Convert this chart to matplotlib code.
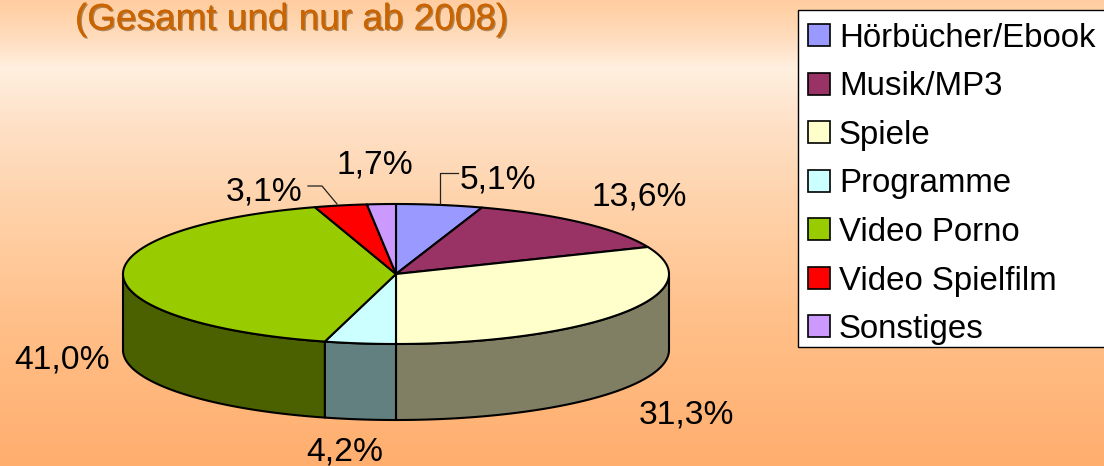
import numpy as np
import matplotlib
matplotlib.use("Agg")
import matplotlib.pyplot as plt
from matplotlib.colors import LinearSegmentedColormap
from matplotlib.patches import Patch, Polygon, Rectangle
import matplotlib.patheffects as pe

# Data
categories = ["Hörbücher/Ebook", "Musik/MP3", "Spiele", "Programme",
              "Video Porno", "Video Spielfilm", "Sonstiges"]
values = [5.1, 13.6, 31.3, 4.2, 41.0, 3.1, 1.7]
value_labels = ["5,1%", "13,6%", "31,3%", "4,2%", "41,0%", "3,1%", "1,7%"]
title_text = "(Gesamt und nur ab 2008)"

# Styles
top_colors = ["#9999FF", "#993366", "#FFFFCC", "#CCFFFF", "#99CC00", "#FF0000", "#CC99FF"]
side_colors = ["#4D4D80", "#4D1A33", "#807F63", "#62807F", "#4B6100", "#800000", "#664D80"]
label_pos = [(498, 180), (639, 197), (686, 415), (345, 452), (62, 360), (264, 192), (375, 165)]
CX, CY, RX, RY, DEPTH = 396, 274, 273, 70, 76

plt.rcParams["font.family"] = ["Liberation Sans", "DejaVu Sans"]
fig = plt.figure(figsize=(11.04, 4.66), dpi=100)
ax = fig.add_axes([0, 0, 1, 1])
ax.set_xlim(0, 1104)
ax.set_ylim(466, 0)
ax.axis("off")

# Background
stops = [(0.0, "#FFCDA0"), (0.08, "#FFDDBE"), (0.145, "#FFF0DF"), (0.27, "#FEE0C6"),
         (0.45, "#FFD2A9"), (0.7, "#FFBF88"), (1.0, "#FFAE6E")]
cmap = LinearSegmentedColormap.from_list("bg", stops)
ax.imshow(np.linspace(0, 1, 466)[:, None], cmap=cmap, aspect="auto",
          extent=(0, 1104, 466, 0), zorder=0)

def pt(deg, dy=0.0):
    r = np.radians(deg)
    return CX + RX * np.sin(r), CY - RY * np.cos(r) + dy

edges = np.concatenate([[0], np.cumsum(values)]) / np.sum(values) * 360.0

# Side walls (front half only)
for i in range(len(values)):
    a0, a1 = max(edges[i], 90), min(edges[i + 1], 270)
    if a1 <= a0:
        continue
    aa = np.linspace(a0, a1, 80)
    upper = [pt(a) for a in aa]
    lower = [pt(a, DEPTH) for a in aa[::-1]]
    ax.add_patch(Polygon(upper + lower, closed=True, fc=side_colors[i], ec="black",
                         lw=1.5, joinstyle="round", zorder=2))

# Top face
for i in range(len(values)):
    aa = np.linspace(edges[i], edges[i + 1], 120)
    poly = [(CX, CY)] + [pt(a) for a in aa]
    ax.add_patch(Polygon(poly, closed=True, fc=top_colors[i], ec="black",
                         lw=1.5, joinstyle="round", zorder=3))

# Value labels
for lab, (x, y) in zip(value_labels, label_pos):
    ax.text(x, y, lab, fontsize=24.2, color="black", ha="center", va="center", zorder=5)

# Leader lines
ax.plot([458, 440, 440], [173, 173, 204], color="#222222", lw=0.9, zorder=4)
ax.plot([308, 322, 337], [186, 186, 204], color="#222222", lw=0.9, zorder=4)

# Title
ax.text(291, 20, title_text, fontsize=26.6, color="#C96400", ha="center", va="center", zorder=5,
        path_effects=[pe.withSimplePatchShadow(offset=(1.0, -1.0), shadow_rgbFace="#7A5020", alpha=0.6),
                      pe.Normal()])

# Legend box and entries
ax.add_patch(Rectangle((797.5, 10), 340, 337, fc="white", ec="black", lw=1.0, zorder=6))
handles = [Patch(fc=c, ec="black", lw=1.2) for c in top_colors]
leg = ax.legend(handles, categories, loc="upper left", bbox_to_anchor=(797.5, 12),
                bbox_transform=ax.transData, fontsize=23.8, frameon=False,
                borderpad=0.33, borderaxespad=0, labelspacing=0.53,
                handlelength=0.65, handleheight=0.65, handletextpad=0.27)
leg.set_zorder(7)

fig.savefig("out.png", dpi=100)
